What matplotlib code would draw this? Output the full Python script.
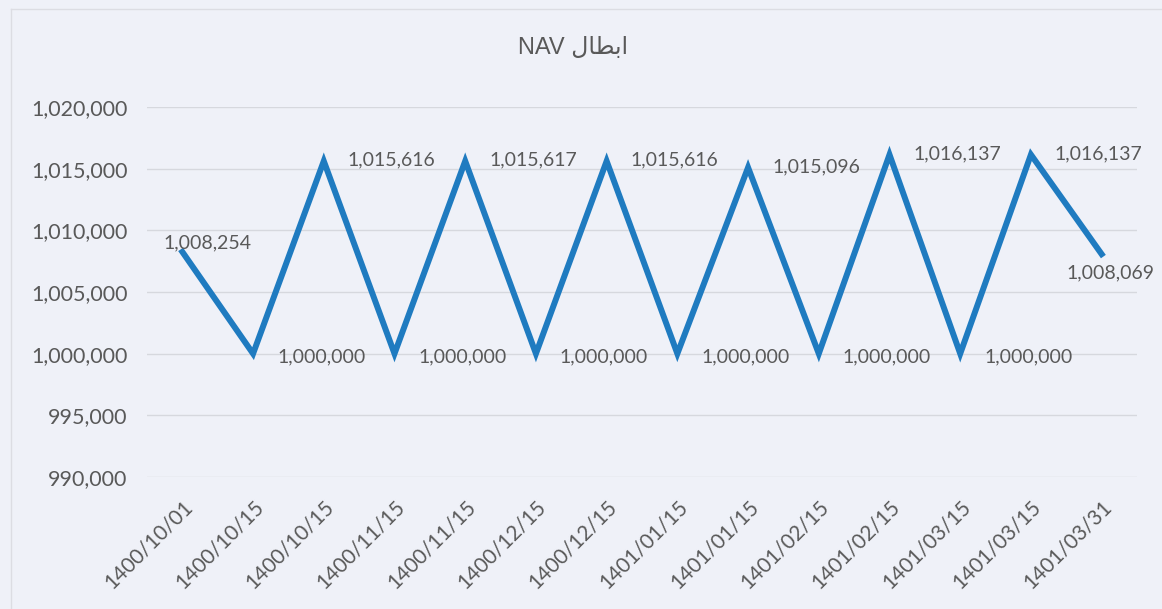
import matplotlib.pyplot as plt
from matplotlib.lines import Line2D

# data
dates = ['1400/10/01', '1400/10/15', '1400/10/15', '1400/11/15', '1400/11/15',
         '1400/12/15', '1400/12/15', '1401/01/15', '1401/01/15', '1401/02/15',
         '1401/02/15', '1401/03/15', '1401/03/15', '1401/03/31']
nav = [1008254, 1000000, 1015616, 1000000, 1015617, 1000000, 1015616,
       1000000, 1015096, 1000000, 1016137, 1000000, 1016137, 1008069]
y_ticks = [990000, 995000, 1000000, 1005000, 1010000, 1015000, 1020000]

# "ابطال" in presentation forms, visual order (matplotlib does no shaping)
title = 'NAV ' + '\uFEDD\uFE8E\uFEC4\uFE91\uFE8D'

bg = '#eff1f8'
grey = '#595959'
W, H = 1162, 609

fig = plt.figure(figsize=(W / 100, H / 100), dpi=100, facecolor=bg)
ax = fig.add_axes([147 / W, 1 - 477 / H, (1137 - 147) / W, (477 - 107) / H])
ax.set_facecolor(bg)

x = list(range(len(nav)))
ax.plot(x, nav, color='#1f7bc0', lw=4.3, solid_joinstyle='miter', zorder=3)

ax.set_xlim(-0.5, len(nav) - 0.5)
ax.set_ylim(y_ticks[0], y_ticks[-1])
ax.set_yticks(y_ticks)
ax.set_yticklabels([f'{v:,}' for v in y_ticks], fontfamily='Lato', fontsize=15.5, color=grey)
ax.set_xticks(x)
ax.set_xticklabels(dates, rotation=45, ha='right', rotation_mode='anchor',
                   fontfamily='Lato', fontsize=15, color=grey)
ax.tick_params(length=0)
ax.tick_params(axis='y', pad=14)
ax.tick_params(axis='x', pad=14)
for s in ax.spines.values():
    s.set_visible(False)
ax.grid(axis='y', color='#d6d8de', lw=1)
ax.set_axisbelow(True)

# data labels: mostly to the right of the point
for i, v in enumerate(nav):
    if i == 0:
        off, ha, va = (-19, 9), 'left', 'center'
    elif i == len(nav) - 1:
        off, ha, va = (9, -19), 'center', 'center'
    elif v == 1000000:
        off, ha, va = (24, -3), 'left', 'center'
    else:
        off, ha, va = (24, 1), 'left', 'center'
    ax.annotate(f'{v:,}', (i, v), xytext=off, textcoords='offset pixels',
                ha=ha, va=va, fontfamily='Lato', fontsize=14, color=grey, zorder=4)

fig.text(573 / W, 1 - 48 / H, title, ha='center', va='center', fontsize=17,
         color=grey, family=['Liberation Sans', 'DejaVu Sans'])

# faint chart border from the scan
fig.add_artist(Line2D([11 / W, 1], [1 - 9 / H, 1 - 9 / H], color='#dcdde3', lw=1))
fig.add_artist(Line2D([11 / W, 11 / W], [0, 1 - 9 / H], color='#dcdde3', lw=1))

fig.savefig('out.png', dpi=100, facecolor=bg)
